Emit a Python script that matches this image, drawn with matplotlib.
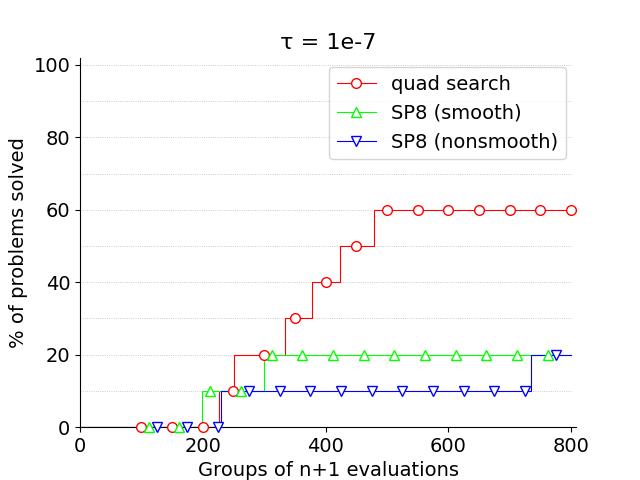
import numpy as np
import matplotlib
matplotlib.use('Agg')
import matplotlib.pyplot as plt
from matplotlib.lines import Line2D

# step breakpoints (x = groups of n+1 evaluations, y = % solved)
quad_x = [0, 227, 251, 334, 378, 423, 479, 800]
quad_y = [0, 10, 20, 30, 40, 50, 60, 60]
smooth_x = [0, 199, 300, 800]
smooth_y = [0, 10, 20, 20]
nonsmooth_x = [0, 230, 735, 800]
nonsmooth_y = [0, 10, 20, 20]

# marker positions
quad_mx = [100, 150, 200, 250, 300, 350, 400, 450, 500, 550, 600, 650, 700, 750, 800]
quad_my = [0, 0, 0, 10, 20, 30, 40, 50, 60, 60, 60, 60, 60, 60, 60]
smooth_mx = [112, 162, 212, 262, 312, 362, 412, 462, 512, 562, 612, 662, 712, 762]
smooth_my = [0, 0, 10, 10, 20, 20, 20, 20, 20, 20, 20, 20, 20, 20]
nonsmooth_mx = [125, 175, 225, 275, 325, 375, 425, 475, 525, 575, 625, 675, 725, 775]
nonsmooth_my = [0, 0, 0, 10, 10, 10, 10, 10, 10, 10, 10, 10, 10, 20]

labels = ['quad search', 'SP8 (smooth)', 'SP8 (nonsmooth)']
colors = ['red', 'lime', 'blue']
markers = ['o', '^', 'v']
grid_levels = [10, 20, 30, 40, 50, 60, 70, 80, 90, 100]

fig, ax = plt.subplots(figsize=(6.4, 4.8), dpi=100)

ax.hlines(grid_levels, 0, 800, colors='#bbbbbb', linestyles=':', linewidth=0.6, zorder=0)

series = [(quad_x, quad_y, quad_mx, quad_my),
          (smooth_x, smooth_y, smooth_mx, smooth_my),
          (nonsmooth_x, nonsmooth_y, nonsmooth_mx, nonsmooth_my)]
handles = []
for (sx, sy, mx, my), lab, c, m in zip(series, labels, colors, markers):
    ax.step(sx, sy, where='post', color=c, linewidth=0.8, zorder=2)
    ax.plot(mx, my, linestyle='none', marker=m, markersize=7, markerfacecolor='white',
            markeredgecolor=c, markeredgewidth=1.0, zorder=3, clip_on=False)
    handles.append(Line2D([], [], color=c, linewidth=0.8, marker=m, markersize=7,
                          markerfacecolor='white', markeredgecolor=c))

ax.set_xlim(0, 808)
ax.set_ylim(0, 102)
ax.set_xticks([0, 200, 400, 600, 800])
ax.set_yticks([0, 20, 40, 60, 80, 100])
ax.tick_params(labelsize=14)
ax.spines['top'].set_visible(False)
ax.spines['right'].set_visible(False)

ax.set_title('τ = 1e-7', fontsize=16)
ax.set_xlabel('Groups of n+1 evaluations', fontsize=14)
ax.set_ylabel('% of problems solved', fontsize=14)
ax.legend(handles, labels, loc='upper right', fontsize=14)

fig.savefig('out.png')
